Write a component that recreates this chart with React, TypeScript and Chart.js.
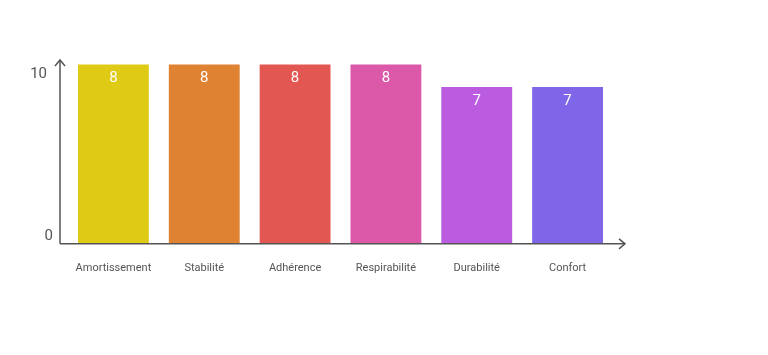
import React, { useEffect, useRef } from "react";
import { Chart, registerables } from "chart.js";

Chart.register(...registerables);

const categories = ["Amortissement", "Stabilité", "Adhérence", "Respirabilité", "Durabilité", "Confort"];
const scores = [8, 8, 8, 8, 7, 7];
const barColors = ["#DFCB16", "#DF8232", "#E35752", "#DC58A8", "#BA5BE0", "#7F65E8"];
const yTickLabels = ["0", "10"];
const yTickValues = [0.33, 7.56];

const FONT = "Roboto, 'Noto Sans', sans-serif";
const AXIS = "#555555";

const decorPlugin = {
  id: "decor",
  afterDatasetsDraw(chart: any) {
    const ctx = chart.ctx;
    const { left, right, top, bottom } = chart.chartArea;
    const yAxisX = left - 8;
    const xEnd = right + 12;
    ctx.save();
    ctx.strokeStyle = AXIS;
    ctx.lineWidth = 1.5;
    ctx.beginPath();
    ctx.moveTo(yAxisX, bottom);
    ctx.lineTo(yAxisX, top);
    ctx.moveTo(yAxisX, bottom);
    ctx.lineTo(xEnd, bottom);
    ctx.stroke();
    // arrowheads
    ctx.beginPath();
    ctx.moveTo(yAxisX - 5, top + 6);
    ctx.lineTo(yAxisX, top);
    ctx.lineTo(yAxisX + 5, top + 6);
    ctx.moveTo(xEnd - 6, bottom - 5);
    ctx.lineTo(xEnd, bottom);
    ctx.lineTo(xEnd - 6, bottom + 5);
    ctx.stroke();

    // y tick labels
    const yScale = chart.scales.y;
    ctx.fillStyle = AXIS;
    ctx.font = `15px ${FONT}`;
    ctx.textAlign = "right";
    ctx.textBaseline = "middle";
    yTickLabels.forEach((lbl, i) => {
      const y = yScale.getPixelForValue(yTickValues[i]);
      ctx.fillText(lbl, i === 0 ? yAxisX - 7 : yAxisX - 13, y);
    });

    // value labels
    const meta = chart.getDatasetMeta(0);
    ctx.fillStyle = "#ffffff";
    ctx.font = `15px ${FONT}`;
    ctx.textAlign = "center";
    meta.data.forEach((bar: any, i: number) => {
      ctx.fillText(String(scores[i]), bar.x, bar.y + 14);
    });
    ctx.restore();
  },
};

export default function App() {
  const ref = useRef<HTMLCanvasElement | null>(null);
  useEffect(() => {
    if (!ref.current) return;
    const chart = new Chart(ref.current, {
      type: "bar",
      data: {
        labels: categories,
        datasets: [
          {
            data: scores,
            backgroundColor: barColors,
            borderWidth: 0,
            barPercentage: 0.78,
            categoryPercentage: 1,
          },
        ],
      },
      options: {
        responsive: false,
        animation: false,
        layout: { padding: { left: 68, right: 155, top: 60, bottom: 62 } },
        plugins: { legend: { display: false }, tooltip: { enabled: false } },
        scales: {
          x: {
            grid: { display: false, drawTicks: false },
            border: { display: false },
            ticks: { color: AXIS, font: { family: FONT, size: 11 }, padding: 18, maxRotation: 0 },
          },
          y: { display: false, min: 0, max: 8.2 },
        },
      },
      plugins: [decorPlugin],
    });
    return () => chart.destroy();
  }, []);
  return (
    <div style={{ position: "fixed", left: 0, top: 0, width: 768, height: 355, background: "#fff" }}>
      <canvas ref={ref} width={768} height={355} style={{ width: 768, height: 355 }} />
    </div>
  );
}
